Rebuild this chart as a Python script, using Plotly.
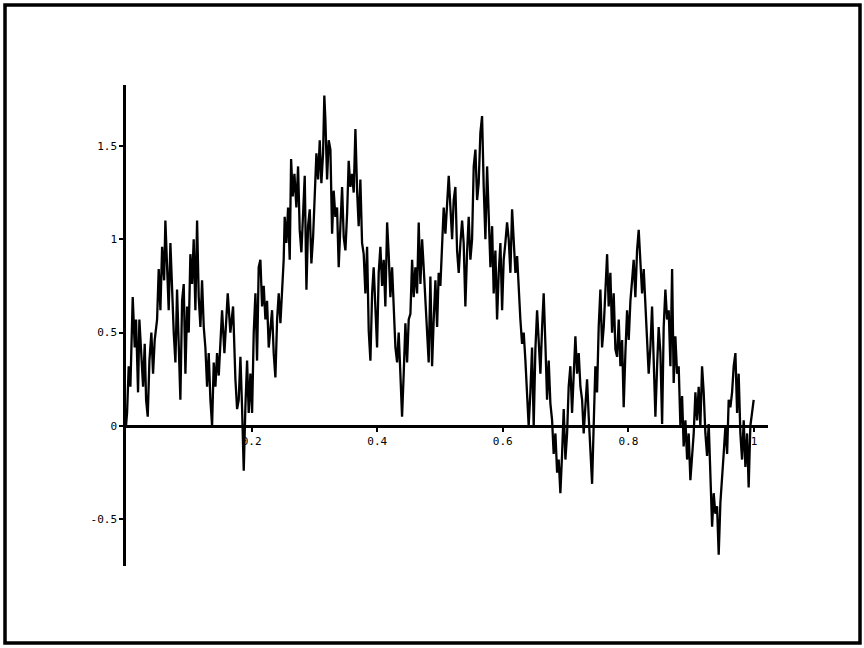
import plotly.graph_objects as go

# Curve values, in six consecutive stretches of x
seg1_x = [0.0, 0.0017, 0.0043, 0.007, 0.0107, 0.0139, 0.016, 0.0192, 0.0213, 0.0245,
          0.0272, 0.0298, 0.032, 0.0346, 0.0373, 0.0404, 0.0431, 0.0457, 0.0495, 0.0521,
          0.0548, 0.0575, 0.0607, 0.0627, 0.0654, 0.068, 0.0707, 0.0734, 0.076, 0.0787,
          0.0813, 0.0839, 0.0866, 0.0893, 0.0919, 0.0946, 0.0973, 0.0999, 0.1025, 0.1052,
          0.1078, 0.1105, 0.1132, 0.1158, 0.1185, 0.1211, 0.1238, 0.1264, 0.1291, 0.1317,
          0.1344, 0.1371, 0.1397, 0.1424, 0.145, 0.1477]
seg1_y = [0.0, 0.07, 0.32, 0.21, 0.69, 0.42, 0.57, 0.18, 0.57, 0.37,
          0.21, 0.44, 0.14, 0.05, 0.35, 0.50, 0.28, 0.46, 0.57, 0.84,
          0.62, 0.96, 0.78, 1.10, 0.89, 0.62, 0.98, 0.71, 0.50, 0.34,
          0.73, 0.44, 0.14, 0.67, 0.76, 0.28, 0.64, 0.50, 0.92, 0.76,
          1.00, 0.62, 1.10, 0.69, 0.53, 0.78, 0.53, 0.42, 0.21, 0.39,
          0.14, 0.00, 0.34, 0.21, 0.39, 0.27]

seg2_x = [0.153, 0.1567, 0.162, 0.1662, 0.1705, 0.1742, 0.1769, 0.1795, 0.1822, 0.1848,
          0.1875, 0.1901, 0.1928, 0.1954, 0.1981, 0.2008, 0.2034, 0.2061, 0.2087, 0.2113,
          0.214, 0.2167, 0.2193, 0.222, 0.2246, 0.2273, 0.2299, 0.2326, 0.2352, 0.2379,
          0.2406, 0.2432, 0.2459, 0.2485, 0.2511, 0.2527, 0.2554, 0.2581, 0.2607, 0.2629,
          0.2655, 0.2682, 0.2713, 0.274, 0.2766, 0.2793, 0.282, 0.2846, 0.2873, 0.2899,
          0.2926, 0.2952, 0.2979, 0.3005, 0.3032, 0.3059, 0.3085, 0.3111, 0.3138, 0.3158]
seg2_y = [0.62, 0.39, 0.71, 0.50, 0.64, 0.25, 0.09, 0.14, 0.37, 0.10,
          -0.24, 0.10, 0.35, 0.07, 0.28, 0.07, 0.50, 0.71, 0.35, 0.85,
          0.89, 0.64, 0.75, 0.57, 0.67, 0.42, 0.53, 0.62, 0.39, 0.26,
          0.57, 0.71, 0.55, 0.73, 0.89, 1.12, 0.98, 1.17, 0.89, 1.43,
          1.23, 1.35, 1.17, 1.39, 1.05, 0.93, 1.17, 1.34, 0.73, 1.07,
          1.16, 0.87, 1.01, 1.28, 1.46, 1.32, 1.53, 1.30, 1.46, 1.77]

seg3_x = [0.3175, 0.3202, 0.3228, 0.3255, 0.3282, 0.3307, 0.3334, 0.3361, 0.3387, 0.3414,
          0.3441, 0.3467, 0.3494, 0.3521, 0.3546, 0.3573, 0.36, 0.3626, 0.3653, 0.368,
          0.3705, 0.3732, 0.3759, 0.3785, 0.3812, 0.3839, 0.3865, 0.3892, 0.3919, 0.3944,
          0.3971, 0.3998, 0.4024, 0.4051, 0.4078, 0.4104, 0.413, 0.4158, 0.4183, 0.421,
          0.4237, 0.4263, 0.429, 0.4317, 0.4342, 0.4369, 0.4396, 0.4422, 0.4449, 0.4476,
          0.4502, 0.4529, 0.4556, 0.4581, 0.4608, 0.4635, 0.4661, 0.4688, 0.4715, 0.474,
          0.4767, 0.4795, 0.482]
seg3_y = [1.64, 1.32, 1.53, 1.48, 1.03, 1.26, 1.12, 1.17, 0.85, 1.07,
          1.28, 1.01, 0.94, 1.14, 1.42, 1.28, 1.35, 1.25, 1.59, 1.26,
          1.07, 1.32, 0.98, 0.92, 0.71, 0.96, 0.51, 0.35, 0.71, 0.85,
          0.60, 0.42, 0.82, 0.96, 0.75, 0.89, 0.64, 1.09, 0.92, 0.69,
          0.85, 0.64, 0.42, 0.34, 0.50, 0.28, 0.05, 0.28, 0.55, 0.34,
          0.57, 0.60, 0.89, 0.69, 0.85, 0.71, 1.09, 0.76, 1.00, 0.85,
          0.67, 0.50, 0.34]

seg4_x = [0.4847, 0.4874, 0.49, 0.4927, 0.4954, 0.4979, 0.5006, 0.5033, 0.5059, 0.5086,
          0.5113, 0.5139, 0.5166, 0.5193, 0.5218, 0.5245, 0.5272, 0.5298, 0.5325, 0.5352,
          0.5377, 0.5404, 0.5431, 0.5457, 0.5484, 0.5511, 0.5537, 0.5564, 0.5591, 0.5616,
          0.5643, 0.567, 0.5696, 0.5723, 0.575, 0.5776, 0.5803, 0.583, 0.5855, 0.5882,
          0.5909, 0.5935, 0.5962, 0.5989, 0.6014, 0.6041, 0.6068, 0.6094, 0.6121, 0.6148,
          0.6174, 0.6201, 0.6228, 0.6253, 0.628, 0.6307, 0.6333, 0.636, 0.6387, 0.6412,
          0.6439, 0.6466, 0.6492]
seg4_y = [0.80, 0.32, 0.57, 0.78, 0.53, 0.82, 0.75, 0.98, 1.17, 1.03,
          1.16, 1.34, 1.17, 1.00, 1.21, 1.28, 0.94, 0.82, 0.98, 1.10,
          0.98, 0.64, 0.93, 1.12, 0.89, 1.00, 1.39, 1.48, 1.21, 1.30,
          1.57, 1.66, 1.28, 1.00, 1.39, 1.16, 0.85, 1.07, 0.71, 0.94,
          0.57, 0.82, 0.98, 0.62, 0.89, 0.98, 1.09, 1.00, 0.82, 1.16,
          1.00, 0.82, 0.91, 0.71, 0.57, 0.44, 0.50, 0.35, 0.19, 0.00,
          0.18, 0.42, 0.00]

seg5_x = [0.6519, 0.6546, 0.6572, 0.6599, 0.6626, 0.6651, 0.6678, 0.6705, 0.6731, 0.6758,
          0.6785, 0.681, 0.6838, 0.6865, 0.689, 0.6917, 0.6944, 0.697, 0.6997, 0.7024,
          0.7049, 0.7076, 0.7103, 0.7129, 0.7156, 0.7183, 0.7209, 0.7236, 0.7263, 0.7288,
          0.7315, 0.7342, 0.7368, 0.7395, 0.7422, 0.7447, 0.7474, 0.7501, 0.7527, 0.7554,
          0.7581, 0.7607, 0.7634, 0.7661, 0.7686, 0.7713, 0.774, 0.7766, 0.7793, 0.782,
          0.7846, 0.7873, 0.79, 0.7925, 0.7952, 0.7979, 0.8005, 0.8032, 0.8059, 0.8084,
          0.8111, 0.8138, 0.8164]
seg5_y = [0.41, 0.62, 0.46, 0.28, 0.53, 0.71, 0.44, 0.14, 0.35, 0.12,
          0.03, -0.15, -0.04, -0.25, -0.18, -0.36, -0.15, 0.09, -0.18, -0.04,
          0.21, 0.32, 0.07, 0.28, 0.48, 0.28, 0.39, 0.21, 0.14, -0.04,
          0.14, 0.25, 0.05, -0.15, -0.31, 0.00, 0.32, 0.18, 0.53, 0.73,
          0.42, 0.53, 0.75, 0.92, 0.64, 0.82, 0.50, 0.71, 0.41, 0.37,
          0.57, 0.32, 0.46, 0.10, 0.39, 0.62, 0.46, 0.67, 0.78, 0.89,
          0.69, 0.94, 1.05]

seg6_x = [0.8218, 0.8244, 0.8271, 0.8298, 0.8323, 0.835, 0.8377, 0.8403, 0.843, 0.8457,
          0.8482, 0.851, 0.8537, 0.8562, 0.8589, 0.8616, 0.8642, 0.8669, 0.8696, 0.8721,
          0.8748, 0.8775, 0.8801, 0.8828, 0.8855, 0.888, 0.8908, 0.8935, 0.896, 0.8987,
          0.9014, 0.904, 0.9067, 0.9094, 0.9119, 0.9146, 0.9173, 0.9199, 0.9226, 0.9253,
          0.9279, 0.9306, 0.9333, 0.9358, 0.9385, 0.9412, 0.9438, 0.9465, 0.9492, 0.9517,
          0.9545, 0.9572, 0.9597, 0.9624, 0.9651, 0.9677, 0.9704, 0.9731, 0.9756, 0.9783,
          0.981, 0.9836, 0.9863, 0.989, 0.9915, 0.9942, 0.9969, 0.9995]
seg6_y = [0.71, 0.84, 0.66, 0.50, 0.28, 0.42, 0.64, 0.35, 0.05, 0.32,
          0.53, 0.39, 0.01, 0.53, 0.73, 0.57, 0.62, 0.32, 0.84, 0.23,
          0.48, 0.28, 0.32, 0.00, 0.16, -0.11, 0.03, -0.18, -0.04, -0.29,
          -0.15, -0.04, 0.18, 0.03, 0.21, 0.00, 0.32, 0.18, -0.04, -0.16,
          0.01, -0.25, -0.54, -0.36, -0.47, -0.43, -0.69, -0.41, -0.29, -0.15,
          0.00, -0.15, 0.14, 0.10, 0.18, 0.32, 0.39, 0.07, 0.28, -0.04,
          -0.18, 0.03, -0.22, -0.04, -0.33, 0.00, 0.07, 0.14]

x_ticks = [0.2, 0.4, 0.6, 0.8, 1.0]
x_tick_labels = ["0.2", "0.4", "0.6", "0.8", "1"]
y_ticks = [-0.5, 0, 0.5, 1, 1.5]
y_tick_labels = ["-0.5", "0", "0.5", "1", "1.5"]

segments = [(seg1_x, seg1_y), (seg2_x, seg2_y), (seg3_x, seg3_y),
            (seg4_x, seg4_y), (seg5_x, seg5_y), (seg6_x, seg6_y)]
x_vals, y_vals = [], []
for sx, sy in segments:
    n = min(len(sx), len(sy))
    x_vals += sx[:n]
    y_vals += sy[:n]

Y_MIN, Y_MAX = -0.75, 1.826
X_MIN, X_MAX = 0.0, 1.0223

fig = go.Figure()
fig.add_trace(go.Scatter(x=x_vals, y=y_vals, mode="lines",
                         line=dict(color="black", width=2.3), showlegend=False,
                         hoverinfo="skip"))

font = dict(family="DejaVu Sans Mono", size=11, color="black")

fig.update_layout(
    width=864, height=648,
    paper_bgcolor="white", plot_bgcolor="white",
    margin=dict(l=126, r=96, t=85, b=82),
    xaxis=dict(range=[X_MIN, X_MAX], anchor="free",
               position=(0 - Y_MIN) / (Y_MAX - Y_MIN),
               showline=True, linecolor="black", linewidth=2.5,
               tickmode="array", tickvals=x_ticks, ticktext=x_tick_labels,
               ticks="outside", ticklen=4, tickwidth=1.5, tickcolor="black",
               showgrid=False, zeroline=False, tickfont=font),
    yaxis=dict(range=[Y_MIN, Y_MAX],
               showline=True, linecolor="black", linewidth=2.5,
               tickmode="array", tickvals=y_ticks, ticktext=y_tick_labels,
               ticks="outside", ticklen=4, tickwidth=1.5, tickcolor="black",
               showgrid=False, zeroline=False, tickfont=font),
)

# outer frame of the page
fig.add_shape(type="rect", xref="paper", yref="paper",
              x0=(5 - 126) / 642, x1=(860 - 126) / 642,
              y0=(566 - 643) / 481, y1=(566 - 5) / 481,
              line=dict(color="black", width=3.5), fillcolor="rgba(0,0,0,0)")

fig.write_html("out.html", config={"displayModeBar": False},
               post_script="document.body.style.margin='0px';document.body.style.overflow='hidden';")
